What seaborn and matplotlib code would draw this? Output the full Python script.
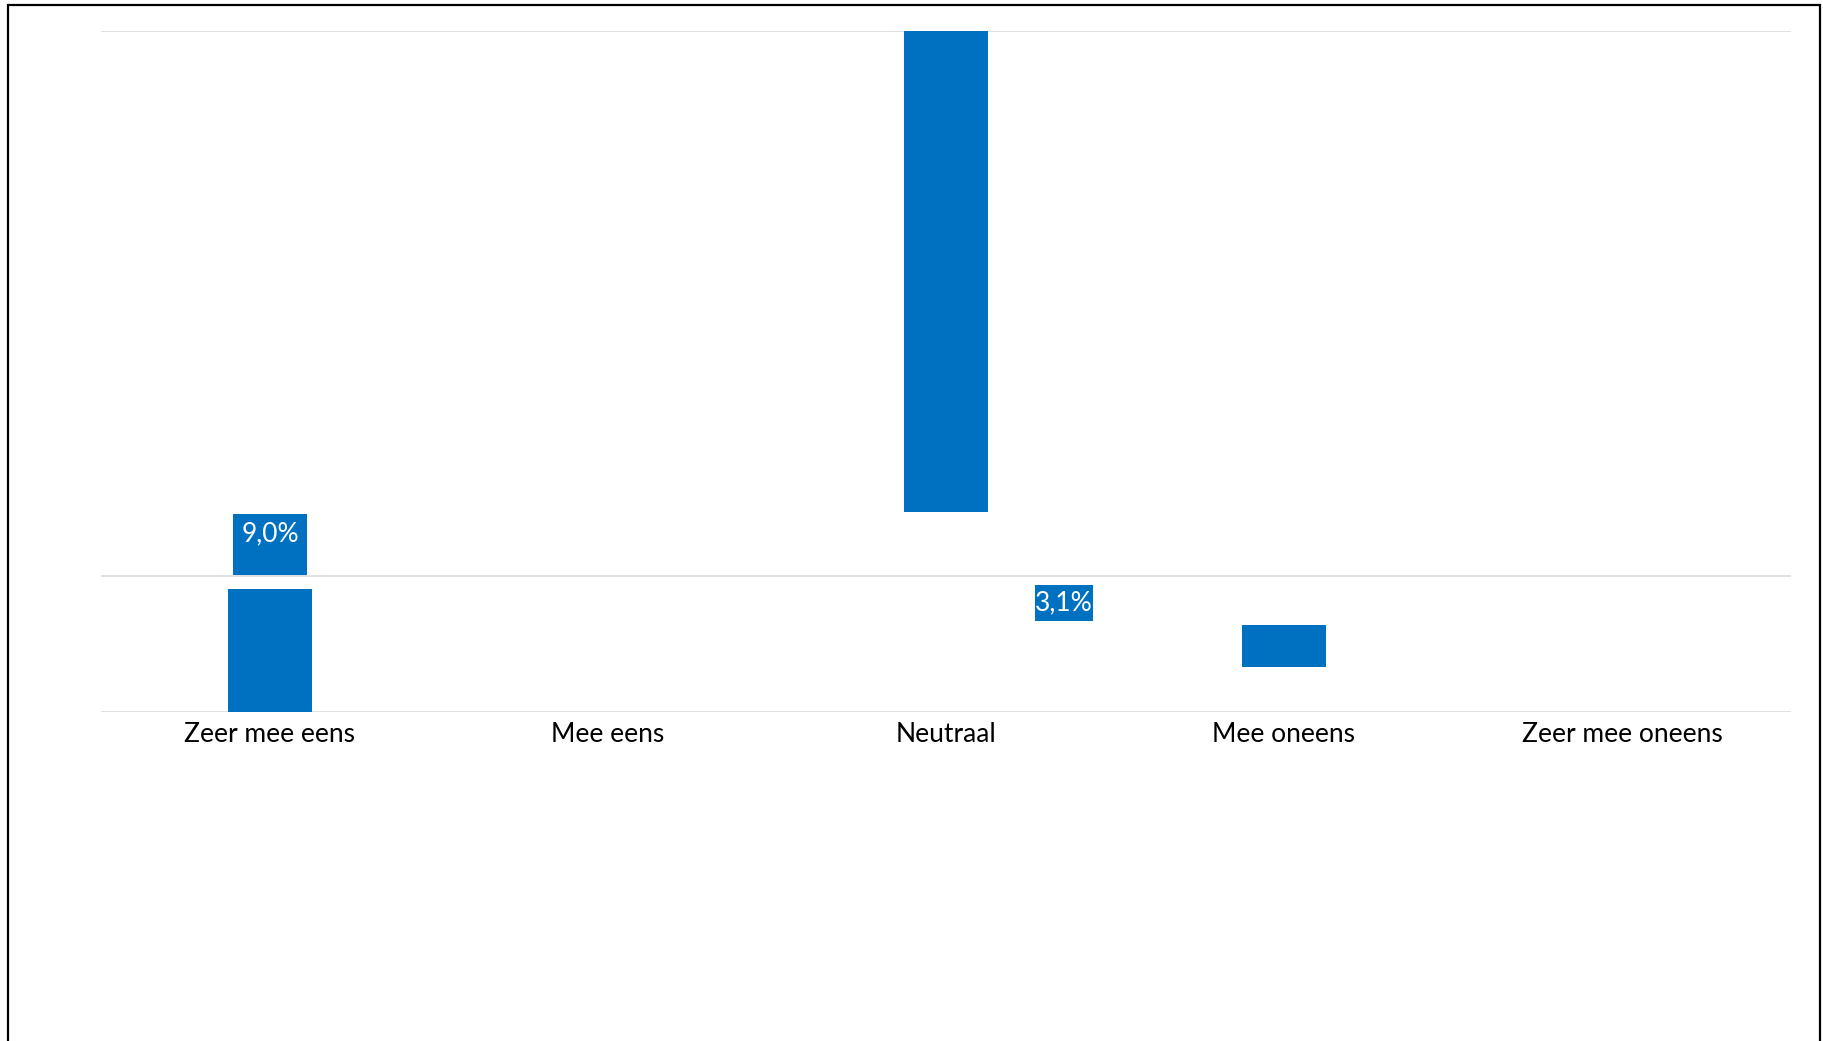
import matplotlib
matplotlib.use("Agg")
import matplotlib.pyplot as plt
from matplotlib.patches import Rectangle
import pandas as pd
import seaborn as sns

# Survey answers (percentages)
categories = ["Zeer mee eens", "Mee eens", "Neutraal", "Mee oneens", "Zeer mee oneens"]
bar_bottom = [0.0, 0.0, 14.7, 3.3, 0.0]
bar_height = [9.0, 0.0, 35.3, 3.1, 0.0]
label_values = [9.0, 3.1]
grid_values = [0, 10, 50]

BLUE = "#0070C0"
W, H = 1823, 1041

sns.set_theme(style="white")
plt.rcParams["font.family"] = ["Lato", "DejaVu Sans"]

fig = plt.figure(figsize=(W / 100, H / 100), dpi=100)
ax = fig.add_axes([101 / W, 1 - 712 / H, 1690 / W, 681 / H])

df = pd.DataFrame({"antwoord": categories, "aandeel": bar_height})
sns.barplot(data=df, x="antwoord", y="aandeel", order=categories,
            bottom=bar_bottom, color=BLUE, saturation=1, width=0.25,
            errorbar=None, ax=ax, linewidth=0)

ax.set_xlim(-0.5, 4.5)
ax.set_ylim(0, 50)
ax.set_yticks(grid_values)
ax.set_yticklabels([])
ax.yaxis.grid(True, color="#D9D9D9", linewidth=1.1)
ax.set_axisbelow(True)
for s in ax.spines.values():
    s.set_visible(False)
ax.tick_params(axis="both", length=0)
ax.tick_params(axis="x", pad=7, labelsize=19, labelcolor="#000000")
ax.set_xlabel("")
ax.set_ylabel("")


def fmt(v):
    return f"{v:.1f}%".replace(".", ",")


# data-label boxes: (x0, x1, y0, y1, text x, text y)
label_boxes = [
    (-0.1095, 0.1095, 10.05, 14.54, 0.0, 13.1),
    (2.263, 2.435, 6.68, 9.32, 2.349, 8.0),
]
for v, (x0, x1, y0, y1, tx, ty) in zip(label_values, label_boxes):
    ax.add_patch(Rectangle((x0, y0), x1 - x0, y1 - y0, facecolor=BLUE,
                           edgecolor="none", zorder=4))
    ax.text(tx, ty, fmt(v), color="white", fontsize=19, ha="center",
            va="center", zorder=5)

# outer chart frame
fig.add_artist(Rectangle((8 / W, -0.05), (1820 - 8) / W, 1.05 - 5.2 / H,
                         transform=fig.transFigure, fill=False,
                         edgecolor="black", linewidth=1.6))

fig.savefig("out.png", dpi=100, facecolor="white")
